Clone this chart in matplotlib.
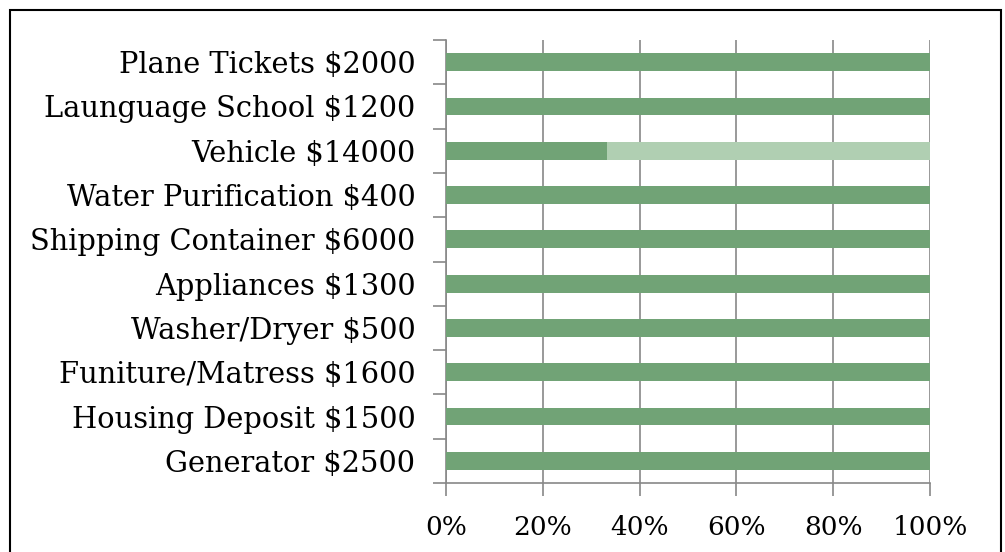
import matplotlib
matplotlib.use("Agg")
import matplotlib.pyplot as plt
from matplotlib.patches import Rectangle
import numpy as np

# items from bottom to top
items = ['Generator $2500', 'Housing Deposit $1500', 'Funiture/Matress $1600',
         'Washer/Dryer $500', 'Appliances $1300', 'Shipping Container $6000',
         'Water Purification $400', 'Vehicle $14000', 'Launguage School $1200',
         'Plane Tickets $2000']
goal = [2500, 1500, 1600, 500, 1300, 6000, 400, 14000, 1200, 2000]
raised = [2500, 1500, 1600, 500, 1300, 6000, 400, 4650, 1200, 2000]
ticks = [0, 20, 40, 60, 80, 100]

goal = np.array(goal, dtype=float)
raised = np.array(raised, dtype=float)
pct_raised = raised / goal * 100
pct_left = 100 - pct_raised

plt.rcParams['font.family'] = ['DejaVu Serif']

fig = plt.figure(figsize=(10.05, 5.52), dpi=100)
ax = fig.add_axes([446/1005, 1 - 483/552, (930-446)/1005, (483-40)/552])

y = np.arange(len(items))
ax.barh(y, pct_raised, height=0.4, color='#71a376', zorder=3)
ax.barh(y, pct_left, left=pct_raised, height=0.4, color='#b0cfb2', zorder=3)

ax.set_xlim(0, 100)
ax.set_ylim(-0.5, len(items) - 0.5)
ax.set_xticks(ticks)
ax.set_xticklabels([str(t) + '%' for t in ticks], fontsize=19)
ax.set_yticks(y)
ax.set_yticklabels(items, fontsize=20.8)
ax.set_yticks(np.arange(len(items) + 1) - 0.5, minor=True)
ax.tick_params(axis='y', which='major', length=0, pad=22)
ax.tick_params(axis='y', which='minor', length=9.5, color='#888888', width=1.2)
ax.tick_params(axis='x', length=9, color='#888888', width=1.2, pad=14)
ax.grid(axis='x', color='#888888', linewidth=1.2, zorder=0)

for s in ['top', 'right']:
    ax.spines[s].set_visible(False)
ax.spines['left'].set_color('#888888')
ax.spines['bottom'].set_color('#888888')
ax.spines['left'].set_linewidth(1.2)
ax.spines['bottom'].set_linewidth(1.2)

fig.patches.append(Rectangle((10/1005, -0.1), 991/1005, 1.1 - 10/552,
                             transform=fig.transFigure, fill=False,
                             edgecolor='black', linewidth=1.5))

plt.savefig('out.png', dpi=100)
